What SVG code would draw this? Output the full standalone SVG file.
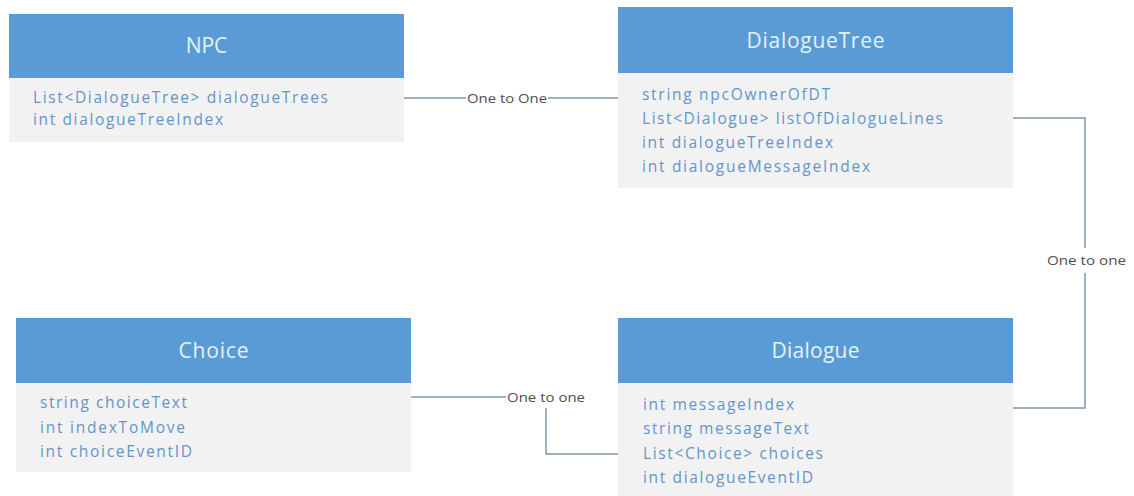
<svg xmlns="http://www.w3.org/2000/svg" width="1134" height="496" viewBox="0 0 1134 496">
<style>
.hd{fill:#5b9bd5}
.bd{fill:#f2f2f2}
.ttl{font-family:"Open Sans","Noto Sans","Liberation Sans",sans-serif;font-size:21px;fill:#e4f2fc;text-anchor:middle}
.at{font-family:"Open Sans","Noto Sans","Liberation Sans",sans-serif;font-size:15.5px;fill:#6395cc}
.cn{fill:none;stroke:#8096ab;stroke-width:1.5}
.lb{font-family:"Open Sans","Noto Sans","Liberation Sans",sans-serif;font-size:12.5px;fill:#4a4f55}
</style>
<rect width="1134" height="496" fill="#ffffff"/>
<g id="connectors">
<path class="cn" d="M404,98 H466 M548,98 H618"/>
<text class="lb" x="467" y="102.5" textLength="80" lengthAdjust="spacingAndGlyphs">One to One</text>
<path class="cn" d="M1013,118 H1085 V248 M1085,273 V408 H1013"/>
<text class="lb" x="1047" y="264.5" textLength="79" lengthAdjust="spacingAndGlyphs">One to one</text>
<path class="cn" d="M411,397 H506 M546,408 V454 H618"/>
<text class="lb" x="507" y="401.5" textLength="78" lengthAdjust="spacingAndGlyphs">One to one</text>
</g>
<g id="NPC">
<rect class="hd" x="9" y="14" width="395" height="64"/>
<rect class="bd" x="9" y="78" width="395" height="64"/>
<text class="ttl" x="206.5" y="53">NPC</text>
<text class="at" x="33" y="103" textLength="295" lengthAdjust="spacing">List&lt;DialogueTree&gt; dialogueTrees</text>
<text class="at" x="33" y="125" textLength="190" lengthAdjust="spacing">int dialogueTreeIndex</text>
</g>
<g id="DialogueTree">
<rect class="hd" x="618" y="7" width="395" height="66"/>
<rect class="bd" x="618" y="73" width="395" height="115"/>
<text class="ttl" x="815.5" y="48" textLength="138" lengthAdjust="spacing">DialogueTree</text>
<text class="at" x="642" y="100" textLength="188" lengthAdjust="spacing">string npcOwnerOfDT</text>
<text class="at" x="642" y="124" textLength="301" lengthAdjust="spacing">List&lt;Dialogue&gt; listOfDialogueLines</text>
<text class="at" x="642" y="148" textLength="191" lengthAdjust="spacing">int dialogueTreeIndex</text>
<text class="at" x="642" y="172" textLength="228" lengthAdjust="spacing">int dialogueMessageIndex</text>
</g>
<g id="Choice">
<rect class="hd" x="16" y="318" width="395" height="65"/>
<rect class="bd" x="16" y="383" width="395" height="89"/>
<text class="ttl" x="213.5" y="358" textLength="70" lengthAdjust="spacing">Choice</text>
<text class="at" x="40" y="408" textLength="147" lengthAdjust="spacing">string choiceText</text>
<text class="at" x="40" y="433" textLength="145" lengthAdjust="spacing">int indexToMove</text>
<text class="at" x="40" y="457" textLength="152" lengthAdjust="spacing">int choiceEventID</text>
</g>
<g id="Dialogue">
<rect class="hd" x="618" y="318" width="395" height="65"/>
<rect class="bd" x="618" y="383" width="395" height="113"/>
<text class="ttl" x="815.5" y="358" textLength="88" lengthAdjust="spacing">Dialogue</text>
<text class="at" x="643" y="410" textLength="151" lengthAdjust="spacing">int messageIndex</text>
<text class="at" x="643" y="434" textLength="166" lengthAdjust="spacing">string messageText</text>
<text class="at" x="643" y="459" textLength="180" lengthAdjust="spacing">List&lt;Choice&gt; choices</text>
<text class="at" x="643" y="483" textLength="170" lengthAdjust="spacing">int dialogueEventID</text>
</g>
</svg>
